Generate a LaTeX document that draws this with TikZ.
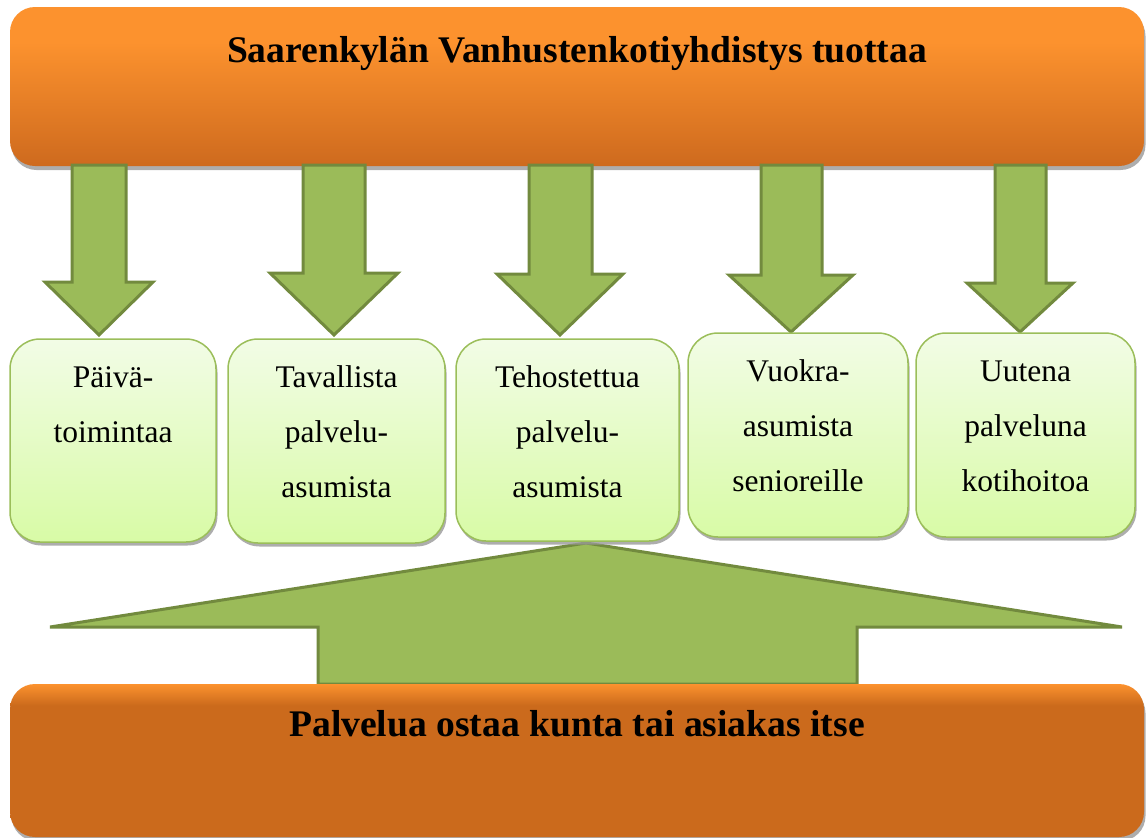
\documentclass[tikz,border=0pt]{standalone}
\usepackage{fontspec}
\setmainfont{Liberation Serif}
\usetikzlibrary{positioning,shadows}
\usepackage{xcolor}

\definecolor{orangeTop}{RGB}{252,146,46}
\definecolor{orangeBot}{RGB}{206,106,30}
\definecolor{orangeDark}{RGB}{203,106,28}
\definecolor{arrowFill}{RGB}{155,187,89}
\definecolor{arrowLine}{RGB}{114,138,62}
\definecolor{boxTop}{RGB}{242,252,230}
\definecolor{boxBot}{RGB}{216,251,166}
\definecolor{boxLine}{RGB}{155,190,90}

\pgfdeclareverticalshading{prodshade}{100bp}{color(0bp)=(orangeBot); color(25bp)=(orangeBot); color(64bp)=(orangeTop); color(75bp)=(orangeTop); color(100bp)=(orangeTop)}
\pgfdeclareverticalshading{buyshade}{100bp}{color(0bp)=(orangeDark); color(25bp)=(orangeDark); color(68bp)=(orangeDark); color(75bp)=(orangeTop); color(100bp)=(orangeTop)}

\begin{document}
\begin{tikzpicture}[x=1pt,y=-1pt,
  bar/.style={rounded corners=25pt, inner sep=0pt,
    drop shadow={shadow xshift=1.5pt, shadow yshift=-4pt, fill=black!40, opacity=0.8}},
  bartext/.style={font=\fontsize{37.6}{44}\selectfont\bfseries, anchor=base, inner sep=0pt},
  svcbox/.style={draw=boxLine, line width=1.5pt, rounded corners=30pt, inner sep=0pt,
    top color=boxTop, bottom color=boxBot,
    drop shadow={shadow xshift=1.5pt, shadow yshift=-3.5pt, fill=black!40, opacity=0.8}},
  svctext/.style={font=\fontsize{31.5}{55}\selectfont, align=center, inner sep=0pt},
  blockarrow/.style={fill=arrowFill, draw=arrowLine, line width=3pt, line join=miter}]
  \useasboundingbox (0,0) rectangle (1146,838);

  % tuottaja
  \node[bar, shading=prodshade, minimum width=1134pt, minimum height=159pt] (prod) at (577,86.5) {};
  \node[bartext] (prodtxt) at (577,62) {Saarenkylän Vanhustenkotiyhdistys tuottaa};

  % nuolet alas
  \foreach \sl/\sr/\hl/\hr/\hy/\ty in {72/126/45/153/282/335, 303/365/270/398/273/335,
      529/592/497/623/274/335, 761/822/729/853/275/332, 995/1046/967/1073/283/332}
    \draw[blockarrow] (\sl,165) -- (\sr,165) -- (\sr,\hy) -- (\hr,\hy)
      -- ({(\hl+\hr)/2},\ty) -- (\hl,\hy) -- (\sl,\hy) -- cycle;

  % nuoli ylös
  \draw[blockarrow] (50,627) -- (586,543) -- (1122,627) -- (857,627) -- (857,684)
    -- (318,684) -- (318,627) -- cycle;

  % palvelut
  \node[svcbox, minimum width=206pt, minimum height=203pt] (s1) at (113,440.5) {};
  \node[svcbox, minimum width=217pt, minimum height=204pt] (s2) at (336.5,441) {};
  \node[svcbox, minimum width=223pt, minimum height=202pt] (s3) at (567.5,440) {};
  \node[svcbox, minimum width=220pt, minimum height=204pt] (s4) at (798,435) {};
  \node[svcbox, minimum width=219pt, minimum height=204pt] (s5) at (1025.5,435) {};

  \node[svctext, below=10.5pt of s1.north] (t1) {\strut Päivä-\\toimintaa};
  \node[svctext, below=10.5pt of s2.north] (t2) {\strut Tavallista\\palvelu-\\asumista};
  \node[svctext, below=10.5pt of s3.north] (t3) {\strut Tehostettua\\palvelu-\\asumista};
  \node[svctext, below=10.5pt of s4.north] (t4) {\strut Vuokra-\\asumista\\senioreille};
  \node[svctext, below=10.5pt of s5.north] (t5) {\strut Uutena\\palveluna\\kotihoitoa};

  % ostaja
  \node[bar, shading=buyshade, minimum width=1134pt, minimum height=153pt] (buy) at (577,760.5) {};
  \node[bartext] (buytxt) at (577,736) {Palvelua ostaa kunta tai asiakas itse};
\end{tikzpicture}
\end{document}
